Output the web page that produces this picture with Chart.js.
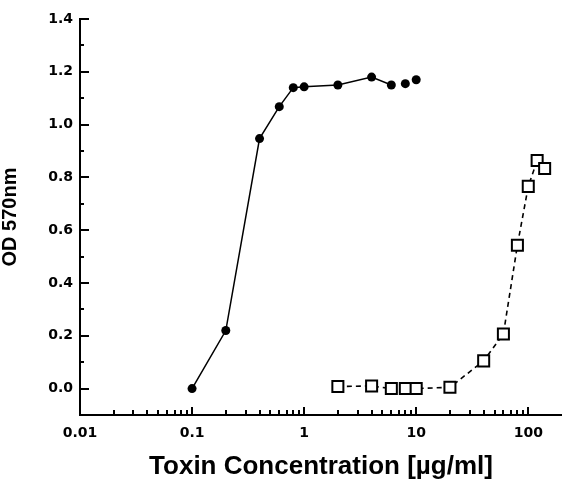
<!DOCTYPE html>
<html>
<head>
<meta charset="utf-8">
<script src="https://cdn.jsdelivr.net/npm/chart.js@4"></script>
<style>
  body { margin: 0; background: #fff; }
  canvas { display: block; }
</style>
</head>
<body>
<canvas id="toxinChart" width="562" height="480"></canvas>
<script>
// data
const toxinA_x = [0.1, 0.2, 0.4, 0.6, 0.8, 1, 2, 4, 6, 8, 10];
const toxinA_y = [0.0, 0.22, 0.947, 1.068, 1.14, 1.143, 1.15, 1.18, 1.15, 1.155, 1.17];

const toxinB_x = [2, 4, 6, 8, 10, 20, 40, 60, 80, 100, 120, 140];
const toxinB_y = [0.008, 0.01, 0.0, 0.0, 0.0, 0.005, 0.105, 0.207, 0.543, 0.766, 0.864, 0.834];

const xTickValues = [0.01, 0.1, 1, 10, 100];
const xTickLabels = ["0.01", "0.1", "1", "10", "100"];
const yTickValues = [0, 0.2, 0.4, 0.6, 0.8, 1.0, 1.2, 1.4];

// ticks pointing into the plot, like the original
const inwardTicks = {
    id: "inwardTicks",
    afterDraw(chart) {
        const ctx = chart.ctx;
        const xs = chart.scales.x;
        const ys = chart.scales.y;
        const bottom = ys.bottom;
        const left = xs.left;
        ctx.save();
        ctx.strokeStyle = "#000";
        ctx.lineWidth = 2;
        ctx.beginPath();
        // x axis: decades + minor 2..9
        xTickValues.forEach((d) => {
            for (let m = 1; m <= 9; m++) {
                const v = d * m;
                if (v <= xs.min || v >= xs.max) continue;
                const px = Math.round(xs.getPixelForValue(v));
                const len = m === 1 ? 8 : 5;
                ctx.moveTo(px, bottom);
                ctx.lineTo(px, bottom - len);
            }
        });
        // y axis: major every 0.2, minor in between
        yTickValues.forEach((v) => {
            const py = Math.round(ys.getPixelForValue(v));
            ctx.moveTo(left, py);
            ctx.lineTo(left + 9, py);
            if (v + 0.1 < ys.max) {
                const pm = Math.round(ys.getPixelForValue(v + 0.1));
                ctx.moveTo(left, pm);
                ctx.lineTo(left + 4, pm);
            }
        });
        ctx.stroke();
        ctx.restore();
    },
};

const ctx = document.getElementById("toxinChart").getContext("2d");

const chart = new Chart(ctx, {
    type: "line",
    data: {
        datasets: [
            {
                label: "filled",
                data: toxinA_x.map((x, i) => ({ x: x, y: toxinA_y[i] })),
                borderColor: "#000",
                borderWidth: 1.5,
                pointStyle: "circle",
                pointRadius: 4.5,
                pointBackgroundColor: "#000",
                pointBorderColor: "#000",
                pointBorderWidth: 0,
                segment: {
                    borderColor: (c) => (c.p0DataIndex >= 8 ? "transparent" : "#000"),
                },
            },
            {
                label: "open",
                data: toxinB_x.map((x, i) => ({ x: x, y: toxinB_y[i] })),
                borderColor: "#000",
                borderWidth: 1.6,
                borderDash: [5, 4],
                pointStyle: "rect",
                pointRadius: 7.8,
                pointBackgroundColor: "#fff",
                pointBorderColor: "#000",
                pointBorderWidth: 2,
            },
        ],
    },
    options: {
        responsive: false,
        animation: false,
        layout: { autoPadding: false, padding: { top: 19, right: 0, left: 0, bottom: 0 } },
        plugins: {
            legend: { display: false },
            tooltip: { enabled: false },
        },
        elements: { line: { tension: 0 } },
        scales: {
            x: {
                type: "logarithmic",
                min: 0.01,
                max: 200,
                afterBuildTicks: (scale) => {
                    scale.ticks = xTickValues.map((v) => ({ value: v }));
                },
                afterFit: (scale) => {
                    scale.height = 65;
                    scale.paddingLeft = 0;
                    scale.paddingRight = 0;
                },
                grid: { display: false, drawTicks: false },
                border: { display: true, color: "#000", width: 2 },
                ticks: {
                    color: "#000",
                    padding: 10,
                    maxRotation: 0,
                    autoSkip: false,
                    font: { family: "DejaVu Sans", weight: "bold", size: 14 },
                    callback: (v, i) => xTickLabels[i],
                },
                title: {
                    display: true,
                    text: "Toxin Concentration [µg/ml]",
                    color: "#000",
                    padding: { top: 0, bottom: 0 },
                    font: { family: "Liberation Sans", weight: "bold", size: 26, lineHeight: 1 },
                },
            },
            y: {
                min: -0.1,
                max: 1.4,
                afterBuildTicks: (scale) => {
                    scale.ticks = yTickValues.map((v) => ({ value: v }));
                },
                afterFit: (scale) => {
                    scale.width = 80;
                    scale.paddingTop = 0;
                    scale.paddingBottom = 0;
                },
                grid: { display: false, drawTicks: false },
                border: { display: true, color: "#000", width: 2 },
                ticks: {
                    color: "#000",
                    padding: 7,
                    font: { family: "DejaVu Sans", weight: "bold", size: 14 },
                    callback: (v) => Number(v).toFixed(1),
                },
                title: {
                    display: true,
                    text: "OD 570nm",
                    color: "#000",
                    padding: { top: 0, bottom: 0 },
                    font: { family: "Liberation Sans", weight: "bold", size: 20, lineHeight: 1 },
                },
            },
        },
    },
    plugins: [inwardTicks],
});
</script>
</body>
</html>
